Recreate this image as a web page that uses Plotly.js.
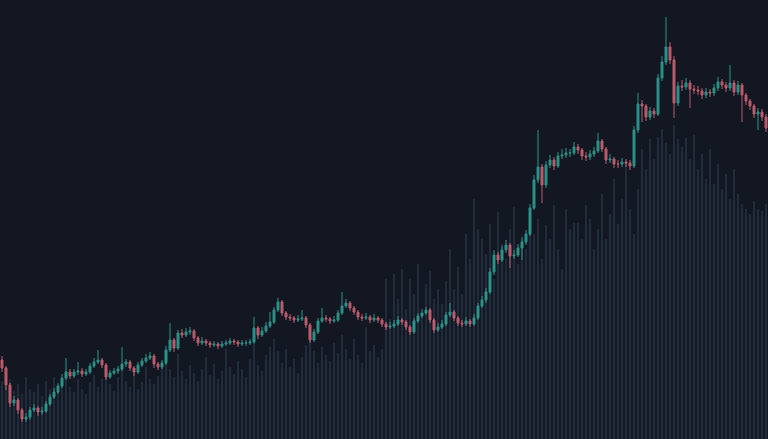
<!DOCTYPE html>
<html>
<head>
<meta charset="utf-8">
<script src="https://cdn.plot.ly/plotly-3.0.1.min.js"></script>
<style>
html,body{margin:0;padding:0;background:#131722;}
#chart{width:768px;height:439px;}
</style>
</head>
<body>
<div id="chart"></div>
<script>
var openP = [80,72,55,37,40,30,21,23,30,32,28,29,36,43,48,54,62,68,64,68,69,66,68,74,78,80,75,63,67,69,71,76,78,72,68,75,79,82,84,76,73,77,90,100,92,107,105,108,109,102,97,99,97,95,96,94,96,97,99,98,96,97,97,98,112,105,109,114,118,130,138,127,123,122,120,121,122,115,100,108,119,122,121,119,120,127,134,137,132,128,123,122,123,120,122,120,116,113,114,116,120,118,113,108,119,124,127,130,120,110,113,116,125,128,122,117,116,119,116,122,134,140,148,168,185,180,190,195,184,185,192,198,206,232,260,273,255,275,280,274,284,285,287,287,293,290,284,283,286,289,299,291,280,281,276,276,278,277,274,310,336,334,323,329,326,362,378,393,380,337,354,353,357,351,350,349,345,348,347,352,358,355,352,357,348,355,345,339,334,326,328,323];
var closeP = [72,55,37,40,30,21,23,30,32,28,29,36,43,48,54,62,68,64,68,69,66,68,74,78,80,75,63,67,69,71,76,78,72,68,75,79,82,84,76,73,77,90,100,92,107,105,108,109,102,97,99,97,95,96,94,96,97,99,98,96,97,97,98,112,105,109,114,118,130,138,127,123,122,120,121,122,115,100,108,119,122,121,119,120,127,134,137,132,128,123,122,123,120,122,120,116,113,114,116,120,118,113,108,119,124,127,130,120,110,113,116,125,128,122,117,116,119,116,122,134,140,148,168,185,180,190,195,184,185,192,198,206,232,260,273,255,275,280,274,284,285,287,287,293,290,284,283,286,289,299,291,280,281,276,276,278,277,274,310,336,334,323,329,326,362,378,393,380,337,354,353,357,351,350,349,345,348,347,352,358,355,352,357,348,355,345,339,334,326,328,323,312];
var highP = [84,74,57,44,42,32,27,33,36,34,33,39,46,52,57,66,82,71,71,78,72,71,77,82,90,82,77,70,72,74,93,81,80,74,78,82,86,88,86,78,80,94,117,102,110,111,112,113,111,104,103,101,99,99,98,99,100,102,101,100,100,100,101,123,114,113,118,128,133,142,140,129,126,124,125,130,124,117,111,122,132,125,123,124,130,148,141,139,134,130,126,127,125,126,124,122,118,118,120,124,122,120,115,122,127,131,133,132,122,117,120,128,137,130,124,120,123,121,126,137,144,152,172,190,188,194,200,197,190,196,203,210,236,265,310,276,279,285,283,288,291,292,291,298,296,292,288,290,293,307,301,293,286,283,280,282,281,280,314,347,340,336,333,332,366,384,423,398,384,358,360,362,360,355,354,352,352,351,356,363,361,358,375,360,359,357,347,341,336,332,331,326];
var lowP = [68,50,33,34,26,18,18,20,28,24,25,27,34,41,46,52,60,61,62,65,63,64,66,72,76,72,60,61,65,66,69,73,69,64,66,73,77,80,72,70,71,75,88,88,90,102,103,105,99,94,95,94,92,93,91,92,94,95,95,93,94,94,95,96,101,103,107,112,116,128,124,120,119,117,118,119,112,97,98,106,117,118,116,117,118,125,132,129,125,120,119,120,117,118,117,113,110,111,112,114,115,110,105,106,117,122,125,117,107,108,111,114,123,119,114,113,114,113,114,120,132,137,146,165,176,178,187,172,181,183,180,195,204,230,257,237,252,272,270,272,281,282,283,285,286,280,279,280,283,287,288,276,277,272,272,273,273,270,272,307,318,319,320,322,324,359,375,376,322,334,349,350,332,346,345,341,342,343,344,349,351,348,349,344,345,318,335,330,322,310,319,308];
var volume = [58,52,60,48,55,45,62,50,47,55,43,58,50,62,48,56,68,52,47,60,50,45,57,64,52,
  60,70,55,48,62,75,58,52,66,50,57,72,60,55,63,78,88,70,62,85,68,60,74,66,58,
  70,82,64,75,60,68,90,72,65,78,70,62,80,95,74,68,84,92,100,88,76,90,72,80,66,
  82,94,110,88,76,92,84,78,96,86,104,90,80,100,84,76,112,88,94,82,90,160,120,165,140,
  170,130,160,145,175,125,155,168,140,150,135,158,190,150,172,145,205,180,240,210,
  200,185,215,160,227,195,180,210,232,175,200,190,227,205,220,180,214,200,234,190,170,230,210,216,
  216,200,234,220,190,210,245,200,225,260,215,240,276,230,205,250,290,270,300,280,302,310,296,285,
  314,300,292,301,280,304,270,285,260,290,255,275,250,265,240,270,245,235,230,225,238,230,228,235];

var idx = closeP.map(function(_, i){ return i; });

var volTrace = {
  type: 'bar',
  x: idx,
  y: volume,
  width: 0.62,
  marker: {color: 'rgba(40,58,76,0.62)', line: {width: 0}},
  xaxis: 'x',
  yaxis: 'y',
  hoverinfo: 'skip'
};

var candleTrace = {
  type: 'candlestick',
  x: idx,
  open: openP,
  high: highP,
  low: lowP,
  close: closeP,
  xaxis: 'x',
  yaxis: 'y2',
  whiskerwidth: 0,
  opacity: 0.85,
  increasing: {line: {color: '#2fa99c', width: 1}, fillcolor: '#2fa99c'},
  decreasing: {line: {color: '#d9687a', width: 1}, fillcolor: '#d9687a'},
  hoverinfo: 'skip'
};

var layout = {
  width: 768,
  height: 439,
  margin: {l: 0, r: 0, t: 0, b: 0, pad: 0},
  paper_bgcolor: '#131722',
  plot_bgcolor: '#131722',
  showlegend: false,
  bargap: 0,
  xaxis: {range: [-0.5, 191.5], visible: false, showgrid: false, zeroline: false, rangeslider: {visible: false}, fixedrange: true},
  yaxis: {range: [0, 439], visible: false, showgrid: false, zeroline: false, fixedrange: true},
  yaxis2: {range: [1, 440], overlaying: 'y', visible: false, showgrid: false, zeroline: false, fixedrange: true}
};

Plotly.newPlot('chart', [volTrace, candleTrace], layout, {staticPlot: true, displayModeBar: false});
</script>
</body>
</html>
